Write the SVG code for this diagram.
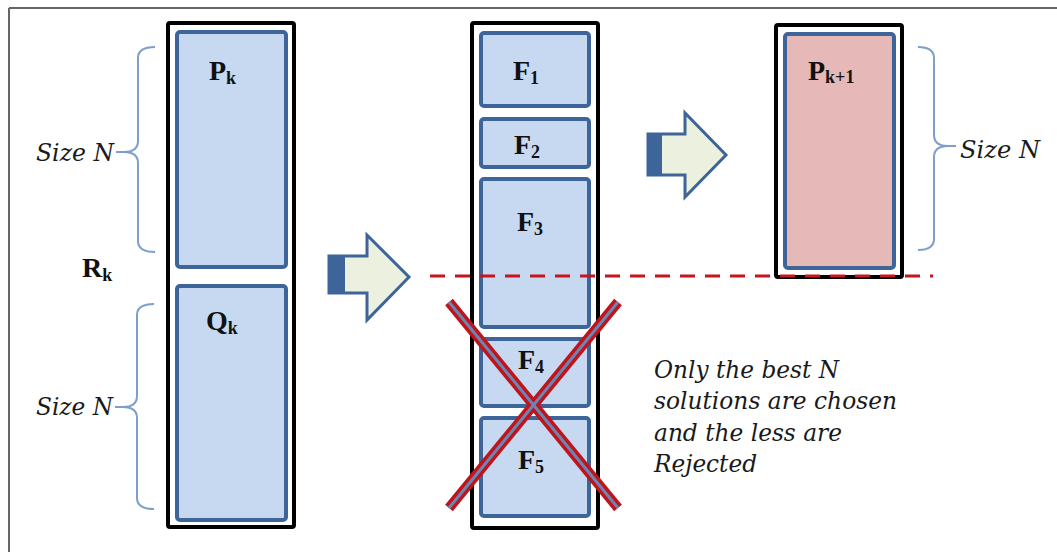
<svg xmlns="http://www.w3.org/2000/svg" width="1057" height="552" viewBox="0 0 1057 552">
<style>
.outer{fill:#fff;stroke:#000;stroke-width:4}
.box{fill:#c6d9f1;stroke:#3e659a;stroke-width:4}
.pink{fill:#e6b9b8;stroke:#3e659a;stroke-width:4}
.brace{fill:none;stroke:#7e9fcc;stroke-width:2}
.lbl{font-family:"Liberation Serif",serif;font-weight:bold;font-size:28px;fill:#111}
.sub{font-size:18px}
.it{font-family:"DejaVu Serif","Liberation Serif",serif;font-style:italic;font-size:25px;fill:#1a1a1a}
.arrow{fill:#ebf1de;stroke:#3e659a;stroke-width:3;stroke-linejoin:miter}
.dark{fill:#3e659a}
</style>
<rect width="1057" height="552" fill="#fff"/>
<path d="M9,8 H1057 M9,8 V552" fill="none" stroke="#666" stroke-width="2"/>

<g id="col-left">
  <rect class="outer" x="168" y="23" width="126" height="504" rx="2"/>
  <g id="Pk"><rect class="box" x="177" y="32" width="109" height="235" rx="3"/>
    <text class="lbl" x="209" y="80">P<tspan class="sub" dy="4">k</tspan></text></g>
  <g id="Qk"><rect class="box" x="177" y="286" width="109" height="234" rx="3"/>
    <text class="lbl" x="206" y="330">Q<tspan class="sub" dy="4">k</tspan></text></g>
</g>
<g id="Rk"><text class="lbl" x="82" y="277">R<tspan class="sub" dy="4">k</tspan></text></g>
<g id="brace-top">
  <path class="brace" d="M155,47 Q138,47 138,58 V141 Q138,152 124,152 H116 M124,152 Q138,152 138,163 V241 Q138,252 155,252"/>
  <text class="it" x="36" y="161" textLength="78" lengthAdjust="spacingAndGlyphs">Size N</text>
</g>
<g id="brace-bottom">
  <path class="brace" d="M154,304 Q137,304 137,315 V396 Q137,407 123,407 H115 M123,407 Q137,407 137,418 V498 Q137,509 154,509"/>
  <text class="it" x="36" y="415" textLength="77" lengthAdjust="spacingAndGlyphs">Size N</text>
</g>

<g id="col-mid">
  <rect class="outer" x="472" y="23" width="126" height="505" rx="2"/>
  <g id="F1"><rect class="box" x="481" y="33" width="108" height="73" rx="3"/>
    <text class="lbl" x="513" y="80">F<tspan class="sub" dy="4">1</tspan></text></g>
  <g id="F2"><rect class="box" x="481" y="119" width="108" height="48" rx="3"/>
    <text class="lbl" x="514" y="154">F<tspan class="sub" dy="4">2</tspan></text></g>
  <g id="F3"><rect class="box" x="481" y="179" width="108" height="148" rx="3"/>
    <text class="lbl" x="517" y="231">F<tspan class="sub" dy="4">3</tspan></text></g>
  <g id="F4"><rect class="box" x="481" y="339" width="108" height="67" rx="3"/>
    <text class="lbl" x="518" y="369">F<tspan class="sub" dy="4">4</tspan></text></g>
  <g id="F5"><rect class="box" x="481" y="418" width="108" height="98" rx="3"/>
    <text class="lbl" x="518" y="469">F<tspan class="sub" dy="4">5</tspan></text></g>
</g>

<g id="col-right">
  <rect class="outer" x="776" y="25" width="126" height="252" rx="2"/>
  <g id="Pk1"><rect class="pink" x="785" y="34" width="109" height="234" rx="3"/>
    <text class="lbl" x="808" y="80">P<tspan class="sub" dy="3">k+1</tspan></text></g>
</g>
<g id="brace-right">
  <path class="brace" d="M918,47 Q934,47 934,58 V135 Q934,146 948,146 H956 M948,146 Q934,146 934,157 V239 Q934,250 918,250"/>
  <text class="it" x="960" y="158" textLength="80" lengthAdjust="spacingAndGlyphs">Size N</text>
</g>

<g id="connectors">
  <g id="arrow1">
    <path class="arrow" d="M329,256 H367 V235 L409,277 L367,320 V293 H329 Z"/>
    <rect class="dark" x="329" y="256" width="16" height="37"/>
  </g>
  <g id="arrow2">
    <path class="arrow" d="M648,134 H685 V113 L726,155 L685,197 V175 H648 Z"/>
    <rect class="dark" x="648" y="134" width="14" height="41"/>
  </g>
  <line x1="430" y1="276" x2="933" y2="276" stroke="#c8141c" stroke-width="3" stroke-dasharray="15,10"/>
  <g id="cross">
    <line x1="449" y1="302" x2="618" y2="508" stroke="#c0141c" stroke-width="10"/>
    <line x1="618" y1="302" x2="449" y2="508" stroke="#c0141c" stroke-width="10"/>
    <line x1="449" y1="302" x2="618" y2="508" stroke="#6b86b3" stroke-width="3"/>
    <line x1="618" y1="302" x2="449" y2="508" stroke="#6b86b3" stroke-width="3"/>
  </g>
</g>

<g id="note">
  <text class="it" x="654" y="378" textLength="185" lengthAdjust="spacingAndGlyphs">Only the best N</text>
  <text class="it" x="654" y="409" textLength="243" lengthAdjust="spacingAndGlyphs">solutions are chosen</text>
  <text class="it" x="654" y="441" textLength="188" lengthAdjust="spacingAndGlyphs">and the less are</text>
  <text class="it" x="654" y="472" textLength="103" lengthAdjust="spacingAndGlyphs">Rejected</text>
</g>
</svg>
